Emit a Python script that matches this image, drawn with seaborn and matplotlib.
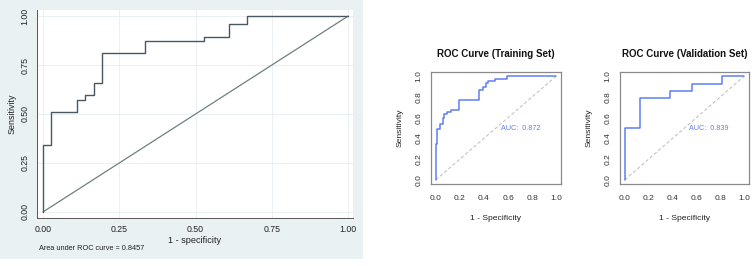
import matplotlib
matplotlib.use('Agg')
import matplotlib.pyplot as plt
import seaborn as sns
import numpy as np
from matplotlib.patches import Rectangle

# panel 1 (Stata style) - ROC corner points, drawn as steps
stata_fpr = [0.0, 0.0, 0.0278, 0.111, 0.139, 0.167, 0.194, 0.333, 0.528, 0.611, 0.667, 1.0]
stata_tpr = [0.0, 0.34, 0.51, 0.574, 0.596, 0.66, 0.809, 0.872, 0.894, 0.957, 1.0, 1.0]
stata_auc = '0.8457'
stata_ticks = [0.0, 0.25, 0.5, 0.75, 1.0]

# panel 2 - training set
train_fpr = [0.0, 0.0, 0.014, 0.033, 0.056, 0.072, 0.094, 0.128, 0.189, 0.356,
             0.394, 0.417, 0.436, 0.494, 0.594, 1.0]
train_tpr = [0.0, 0.345, 0.486, 0.537, 0.60, 0.633, 0.655, 0.671, 0.767, 0.863,
             0.895, 0.933, 0.952, 0.974, 1.0, 1.0]
train_auc = '0.872'

# panel 3 - validation set
valid_fpr = [0.0, 0.0, 0.125, 0.375, 0.5625, 0.8125, 1.0]
valid_tpr = [0.0, 0.5, 0.786, 0.857, 0.929, 1.0, 1.0]
valid_auc = '0.839'

r_ticks = [0.0, 0.2, 0.4, 0.6, 0.8, 1.0]

sns.set_theme(style='white')
plt.rcParams['font.family'] = ['Liberation Sans', 'DejaVu Sans']

W, H = 752, 266
fig = plt.figure(figsize=(W / 100, H / 100), dpi=100)
fig.patch.set_facecolor('white')


def px_axes(left, top, right, bottom):
    return fig.add_axes([left / W, 1 - bottom / H, (right - left) / W, (bottom - top) / H])


# ---------- panel 1: Stata look ----------
bg = '#eaf1f3'
fig.add_artist(Rectangle((0, 1 - 259 / H), 363 / W, 259 / H, transform=fig.transFigure,
                         facecolor=bg, edgecolor='none', zorder=0))
ax1 = px_axes(37, 10, 353, 218)
ax1.set_facecolor('white')
sns.lineplot(x=[0, 1], y=[0, 1], ax=ax1, color='#6e807c', linewidth=0.9,
             estimator=None, sort=False)
sns.lineplot(x=stata_fpr, y=stata_tpr, ax=ax1, color='#4a5864', linewidth=1.0,
             estimator=None, sort=False, drawstyle='steps-post')
ax1.set_xlim(-0.0197, 1.016)
ax1.set_ylim(-0.031, 1.031)
ax1.set_xticks(stata_ticks)
ax1.set_yticks(stata_ticks)
ax1.set_xticklabels(['%.2f' % t for t in stata_ticks])
ax1.set_yticklabels(['%.2f' % t for t in stata_ticks], rotation=90, va='center')
ax1.grid(True, color=bg, linewidth=0.7)
for s in ['top', 'right']:
    ax1.spines[s].set_visible(False)
for s in ['left', 'bottom']:
    ax1.spines[s].set_color('#555555')
    ax1.spines[s].set_linewidth(0.7)
ax1.tick_params(axis='both', direction='out', length=3, width=0.7, color='#555555',
                labelsize=6.3, labelcolor='#222222')
ax1.tick_params(axis='x', pad=2)
ax1.tick_params(axis='y', pad=2.5)
ax1.set_xlabel('1 - specificity', fontsize=6.6, labelpad=1.5, color='#222222')
ax1.set_ylabel('Sensitivity', fontsize=6.4, labelpad=2.5, color='#222222')
fig.text(39 / W, 1 - 248 / H, 'Area under ROC curve = ' + stata_auc, fontsize=5.3,
         va='center', ha='left', color='#222222')

# ---------- panels 2 and 3: R / pROC look ----------
blue = '#5f7ef2'


def r_panel(ax, fpr, tpr, auc, title):
    ax.set_facecolor('white')
    sns.lineplot(x=[0, 1], y=[0, 1], ax=ax, color='#c4c4c4', linewidth=0.8,
                 linestyle=(0, (3, 2)), estimator=None, sort=False)
    sns.lineplot(x=fpr, y=tpr, ax=ax, color=blue, linewidth=1.1,
                 estimator=None, sort=False, drawstyle='steps-post')
    ax.set_xlim(-0.04, 1.04)
    ax.set_ylim(-0.04, 1.04)
    ax.set_xticks(r_ticks)
    ax.set_yticks(r_ticks)
    ax.set_xticklabels(['%.1f' % t for t in r_ticks])
    ax.set_yticklabels(['%.1f' % t for t in r_ticks], rotation=90, va='center')
    for s in ax.spines.values():
        s.set_visible(True)
        s.set_color('#8a8a8a')
        s.set_linewidth(0.9)
    ax.tick_params(axis='both', direction='out', length=3, width=0.7, color='#777777',
                   labelsize=6, labelcolor='#333333')
    ax.tick_params(axis='x', pad=5)
    ax.tick_params(axis='y', pad=3.2)
    ax.set_xlabel('1 - Specificity', fontsize=6.1, labelpad=9, color='#222222')
    ax.set_ylabel('Sensitivity', fontsize=6.1, labelpad=8.5, color='#222222')
    ax.set_title(title, fontsize=7, fontweight='bold', pad=11, color='#111111')
    ax.text(0.54, 0.5, 'AUC:  ' + auc, fontsize=5.2, color=blue, ha='left', va='center')


ax2 = px_axes(431, 72, 561, 184)
r_panel(ax2, train_fpr, train_tpr, train_auc, 'ROC Curve (Training Set)')

ax3 = px_axes(620, 72, 749, 184)
r_panel(ax3, valid_fpr, valid_tpr, valid_auc, 'ROC Curve (Validation Set)')

fig.savefig('out.png', dpi=100)
